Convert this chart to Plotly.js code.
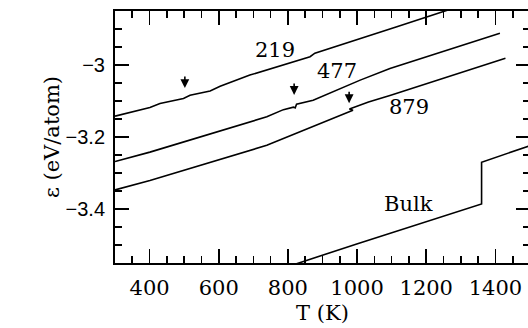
<!DOCTYPE html>
<html>
<head>
<meta charset="utf-8">
<script src="https://cdn.plot.ly/plotly-3.0.1.min.js"></script>
<style>
html,body{margin:0;padding:0;background:#fff;overflow:hidden;}
#wrap{width:528px;height:328px;overflow:hidden;}
</style>
</head>
<body>
<div id="wrap"><div id="chart"></div></div>
<script>
// Cluster size 219
var T219 = [300, 401, 430, 498, 517, 575, 604, 690, 864, 878, 1115, 1249, 1270];
var E219 = [-3.142, -3.118, -3.107, -3.093, -3.084, -3.072, -3.059, -3.028, -2.977, -2.967, -2.894, -2.852, -2.845];
// Cluster size 477
var T477 = [300, 401, 739, 787, 816, 821, 825, 873, 1009, 1095, 1413];
var E477 = [-3.268, -3.242, -3.144, -3.124, -3.117, -3.119, -3.109, -3.098, -3.042, -3.010, -2.912];
// Cluster size 879
var T879 = [300, 401, 739, 983, 988, 978, 994, 1033, 1095, 1429];
var E879 = [-3.347, -3.321, -3.223, -3.130, -3.126, -3.122, -3.116, -3.103, -3.085, -2.981];
// Bulk
var Tbulk = [800, 999, 1360, 1360, 1500];
var Ebulk = [-3.560, -3.497, -3.386, -3.270, -3.224];

// curve labels
var labelText = ["219", "477", "879", "Bulk"];
var labelT = [763, 941, 1150, 1150];
var labelE = [-2.957, -3.016, -3.118, -3.386];

// melting-transition arrows
var arrowT = [502, 818, 977];
var arrowE = [-3.064, -3.083, -3.106];

var xTickVals = [400, 600, 800, 1000, 1200, 1400];

var lineStyle = {color: '#000', width: 1.6};
function tr(x, y, xa, ya) {
  return {x: x, y: y, type: 'scatter', mode: 'lines', line: lineStyle, showlegend: false, xaxis: xa, yaxis: ya};
}
var data = [tr(T219, E219, 'x', 'y'), tr(T477, E477, 'x', 'y'), tr(T879, E879, 'x', 'y'), tr(Tbulk, Ebulk, 'x2', 'y2')];

var serif = 'DejaVu Serif, serif';
var annotations = [];
for (var i = 0; i < labelText.length; i++) {
  annotations.push({x: labelT[i], y: labelE[i], xref: 'x', yref: 'y', text: labelText[i],
    showarrow: false, font: {family: serif, size: 21, color: '#000'}});
}
for (var j = 0; j < arrowT.length; j++) {
  annotations.push({x: arrowT[j], y: arrowE[j], xref: 'x', yref: 'y', text: '',
    showarrow: true, ax: 0, ay: -13, arrowhead: 2, arrowsize: 1.1, arrowwidth: 1.6, arrowcolor: '#000'});
}

var xRange = [300, 1500];
var yRange = [-3.55, -2.85];

// main axes: frame + inside ticks only
var tickAxis = {
  showline: true, linecolor: '#000', linewidth: 2, mirror: 'ticks',
  ticks: 'inside', tickcolor: '#000', tickwidth: 1.6, ticklen: 14,
  showgrid: false, zeroline: false, showticklabels: false
};
// overlay axes: tick labels + titles only
var labelAxis = {showline: false, ticks: '', showgrid: false, zeroline: false};

var layout = {
  width: 532, height: 328,
  margin: {l: 115, r: 2, t: 11, b: 65},
  paper_bgcolor: '#fff', plot_bgcolor: 'rgba(0,0,0,0)',
  xaxis: Object.assign({}, tickAxis, {
    range: xRange, tickmode: 'array', tickvals: xTickVals,
    minor: {dtick: 50, ticks: 'inside', ticklen: 7, tickcolor: '#000'}
  }),
  yaxis: Object.assign({}, tickAxis, {
    range: yRange, tickmode: 'linear', tick0: -3, dtick: 0.2,
    minor: {dtick: 0.05, ticks: 'inside', ticklen: 7, tickcolor: '#000'}
  }),
  xaxis2: Object.assign({}, labelAxis, {
    range: xRange, overlaying: 'x', anchor: 'y2', side: 'bottom',
    tickmode: 'array', tickvals: xTickVals,
    tickfont: {family: serif, size: 21, color: '#000'},
    ticklabelstandoff: 10,
    title: {text: 'T (K)', font: {family: serif, size: 21, color: '#000'}, standoff: 6}
  }),
  yaxis2: Object.assign({}, labelAxis, {
    range: yRange, overlaying: 'y', anchor: 'x2', side: 'left',
    tickmode: 'linear', tick0: -3, dtick: 0.2,
    tickfont: {family: 'Liberation Sans, Arial, sans-serif', size: 20, color: '#000'},
    ticklabelstandoff: 9,
    title: {text: '\u03b5 (eV/atom)', font: {family: serif, size: 21, color: '#000'}, standoff: 0}
  }),
  annotations: annotations
};

Plotly.newPlot('chart', data, layout, {displayModeBar: false, staticPlot: true});
</script>
</body>
</html>
